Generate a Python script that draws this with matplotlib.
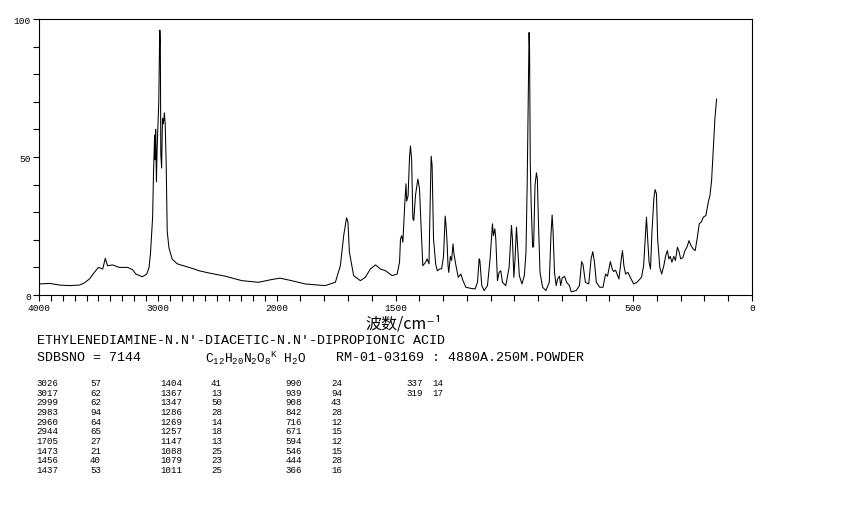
import matplotlib
matplotlib.use("Agg")
import matplotlib.pyplot as plt
import numpy as np

# Raman spectrum (wavenumber cm-1, relative intensity)
wavenumber = [4000, 3910, 3827, 3743, 3659, 3618, 3576, 3534, 3500, 3464,
              3442, 3423, 3381, 3325, 3255, 3213, 3185, 3130, 3093, 3074,
              3062, 3052, 3044, 3036, 3027, 3023, 3018, 3012, 3006, 2999,
              2992, 2986, 2983, 2979, 2975, 2968, 2961, 2953, 2945, 2938,
              2930, 2921, 2906, 2879, 2837, 2767, 2700, 2655, 2572, 2432,
              2293, 2153, 2042, 1986, 1937, 1880, 1824, 1796, 1753, 1732,
              1718, 1706, 1700, 1694, 1676, 1648, 1627, 1606, 1584, 1563,
              1542, 1514, 1493, 1483, 1479, 1474, 1469, 1461, 1456, 1453,
              1447, 1441, 1437, 1432, 1427, 1423, 1416, 1406, 1399, 1392,
              1385, 1373, 1367, 1359, 1355, 1350, 1346, 1340, 1331, 1324,
              1314, 1306, 1298, 1291, 1287, 1283, 1279, 1276, 1269, 1264,
              1258, 1254, 1247, 1236, 1225, 1216, 1204, 1183, 1165, 1155,
              1148, 1145, 1137, 1127, 1113, 1102, 1092, 1088, 1082, 1078,
              1071, 1064, 1057, 1050, 1036, 1022, 1012, 1008, 1002, 997,
              991, 985, 979, 968, 958, 951, 946, 941, 938, 936,
              933, 929, 923, 919, 913, 907, 903, 899, 892, 881,
              867, 853, 846, 841, 837, 831, 824, 818, 810, 805,
              799, 789, 780, 768, 761, 740, 726, 717, 711, 701,
              687, 677, 670, 663, 655, 641, 627, 616, 608, 596,
              588, 582, 574, 568, 560, 550, 545, 539, 532, 522,
              512, 498, 484, 465, 456, 448, 444, 439, 433, 427,
              421, 413, 408, 402, 397, 388, 380, 371, 363, 356,
              350, 344, 337, 329, 322, 314, 308, 300, 291, 282,
              273, 265, 257, 248, 239, 231, 222, 213, 205, 194,
              184, 177, 170, 163, 156, 149]
intensity = [4.0, 4.2, 3.6, 3.4, 3.6, 4.4, 5.8, 8.2, 10.0, 9.4,
             13.3, 10.6, 10.9, 10.0, 10.0, 9.2, 7.6, 6.6, 7.6, 10.0,
             15, 22, 28, 45, 58, 49, 60, 41, 53, 62,
             70, 90, 96, 92, 51, 46, 64, 62, 66, 62,
             48, 23, 17, 13, 11.3, 10.4, 9.5, 8.8, 8.0, 6.8,
             5.2, 4.6, 5.6, 6.1, 5.2, 4.0, 3.6, 3.4, 4.6, 10.6,
             21.5, 28, 26.4, 15.5, 7.0, 5.2, 6.4, 9.4, 10.9, 9.4,
             8.8, 7.0, 7.6, 11.9, 20.3, 21.5, 19.1, 33, 40.3, 34,
             36, 50, 54, 48.8, 27.6, 27, 36, 42, 38.5, 24,
             10.6, 11.9, 13.1, 11.3, 30, 50.3, 47, 20.3, 11.3, 8.8,
             9.4, 9.5, 14, 28.6, 25, 19, 10.6, 8.2, 14, 12.5,
             18.5, 14.9, 11.3, 6.4, 7.6, 5.2, 2.8, 2.4, 2.2, 4.6,
             13.1, 12.5, 3.4, 1.6, 3.4, 13.1, 25.8, 21.5, 24, 20.3,
             5.2, 8.2, 8.8, 4.6, 3.4, 10.0, 25.2, 20.3, 6.4, 13.1,
             24.6, 15.5, 7.0, 4.0, 7.0, 15.5, 39.7, 76, 95.1, 89.9,
             48.2, 32.4, 17.3, 17.5, 39.7, 44.3, 42, 27.6, 8.2, 2.8,
             1.6, 4.6, 21.5, 29, 23, 8.2, 3.4, 5.8, 6.8, 3.4,
             6.1, 6.8, 4.6, 3.4, 1.2, 1.6, 3.4, 12.1, 11, 4.6,
             4.0, 13.1, 15.7, 12, 4.6, 2.8, 2.8, 7.6, 6.8, 12.1,
             9.4, 8.5, 9.0, 7.6, 5.8, 13.1, 16.1, 10.6, 7.6, 8.2,
             6.4, 4.0, 4.6, 6.4, 10.6, 22.8, 28.2, 20.3, 11.9, 9.4,
             22.8, 34.8, 38.2, 36.7, 20.3, 10.0, 7.6, 10.6, 14.3, 16.1,
             13.1, 14, 11.9, 14, 12.5, 17.3, 16, 13.1, 13.5, 16.1,
             17.5, 19.7, 18, 16.7, 16.1, 20.3, 25.8, 26.5, 28.2, 28.8,
             33.6, 36, 41.5, 53, 63.9, 71]

# peak table printed under the chart
peak_wn = ["3026", "3017", "2999", "2983", "2960", "2944", "1705", "1473", "1456", "1437",
           "1404", "1367", "1347", "1286", "1269", "1257", "1147", "1088", "1079", "1011",
           "990", "939", "908", "842", "716", "671", "594", "546", "444", "366",
           "337", "319"]
peak_int = ["57", "62", "62", "94", "64", "65", "27", "21", "40", "53",
            "41", "13", "50", "28", "14", "18", "13", "25", "23", "25",
            "24", "94", "43", "28", "12", "15", "12", "15", "28", "16",
            "14", "17"]

x_major = [4000, 3000, 2000, 1500, 500, 0]
y_labels = [0, 50, 100]

title = "ETHYLENEDIAMINE-N.N'-DIACETIC-N.N'-DIPROPIONIC ACID"
sdbs = "SDBSNO = 7144"
formula = "C$_{12}$H$_{20}$N$_{2}$O$_{8}$$^{K}$ H$_{2}$O"
sample = "RM-01-03169 : 4880A.250M.POWDER"


# half scale above 2000 cm-1
def fwd(x):
    x = np.asarray(x, dtype=float)
    return np.where(x > 2000, 2000 + (x - 2000) / 2.0, x)


def inv(u):
    u = np.asarray(u, dtype=float)
    return np.where(u > 2000, 2000 + (u - 2000) * 2.0, u)


plt.rcParams['mathtext.default'] = 'regular'
mono = 'Liberation Mono'

fig = plt.figure(figsize=(8.5, 5.1), dpi=100)
ax = fig.add_axes([39 / 850, 1 - 296 / 510, 713 / 850, 276 / 510])

ax.plot(wavenumber, intensity, color='black', lw=0.75)

ax.set_xscale('function', functions=(fwd, inv))
ax.set_xlim(4000, 0)
ax.set_ylim(0, 100)

ax.set_xticks(x_major)
ax.set_xticklabels([str(v) for v in x_major], fontsize=6.8, family=mono)
ax.set_xticks(np.arange(0, 4001, 100), minor=True)
ax.set_yticks(y_labels)
ax.set_yticklabels([str(v) for v in y_labels], fontsize=6.8, family=mono)
ax.set_yticks(np.arange(0, 101, 10), minor=True)
ax.tick_params(which='both', direction='out', length=4, width=0.8, pad=2)

for s in ax.spines.values():
    s.set_linewidth(0.8)

fig.text(404 / 850, 1 - 324 / 510, "波数/cm⁻¹", fontsize=11.5,
         family=['Noto Sans CJK SC', 'DejaVu Sans'], ha='center', va='center')

fig.text(37 / 850, 1 - 341 / 510, title, fontsize=9.6, family=mono, va='center')
fig.text(37 / 850, 1 - 358 / 510, sdbs, fontsize=9.6, family=mono, va='center')
fig.text(205 / 850, 1 - 358 / 510, formula, fontsize=9.3, family=mono, va='center')
fig.text(336 / 850, 1 - 358 / 510, sample, fontsize=9.6, family=mono, va='center')

# peak list, 10 rows per column
col_wn_x = [58, 182, 302, 423]
col_int_x = [90, 211, 331, 432]
for i in range(len(peak_wn)):
    c, r = divmod(i, 10)
    y = 1 - (383.3 + r * 9.71) / 510
    fig.text(col_wn_x[c] / 850, y, peak_wn[i], fontsize=6.6, family=mono,
             ha='right', va='center')
    fig.text(col_int_x[c] / 850, y, peak_int[i], fontsize=6.6, family=mono,
             ha='left', va='center')

fig.savefig("out.png", dpi=100)
